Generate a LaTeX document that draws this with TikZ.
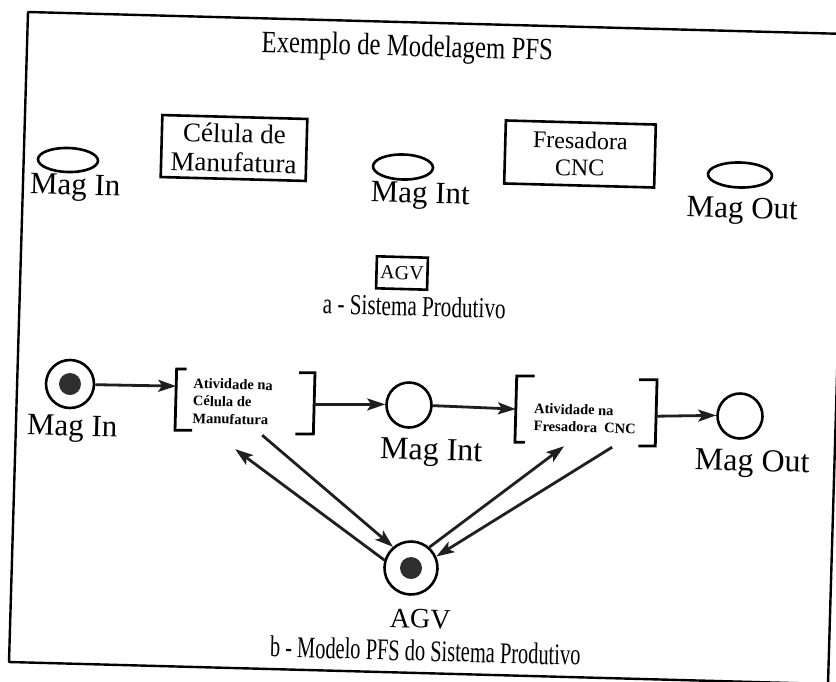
\documentclass[tikz,border=0pt]{standalone}
\usepackage{fontspec}
\setmainfont{Liberation Serif}
\usetikzlibrary{arrows.meta,calc,shapes.geometric}
\begin{document}
\begin{tikzpicture}[x=1pt,y=-1pt,
  every node/.append style={rotate=-1.55},
  frame/.style={line width=2.4pt, line join=round},
  shp/.style={draw, line width=2.6pt},
  txt/.style={inner sep=0pt, anchor=base},
  big/.style={font=\fontsize{31}{31}\selectfont},
  small/.style={font=\bfseries\fontsize{14.5}{17.5}\selectfont, align=left, inner sep=0pt, anchor=west},
  flow/.style={draw=black!88, line width=2.8pt, -{Stealth[length=18pt,width=12pt,inset=4pt]}},
  brk/.style={line width=2.8pt},
  tok/.style={fill=black!82},
]
\useasboundingbox (0,0) rectangle (836,681);
\clip (0,0) rectangle (836,681);
\fill[white] (0,0) rectangle (836,681);

% outer frame
\draw[frame] (28,12) -- (847,34) -- (828,684) -- (9,662) -- cycle;

\node[txt, font=\fontsize{31}{31}\selectfont, xscale=0.8] (title) at (407,56) {Exemplo de Modelagem PFS};

% (a) production system
\node[shp, ellipse, minimum width=60, minimum height=24, inner sep=0] (sin) at (68,160) {};
\node[txt, big] (lin) at (75,195) {Mag In};
\node[shp, minimum width=145, minimum height=62, align=center, inner sep=1,
      font=\fontsize{27}{29}\selectfont] (cel) at (234,148) {Célula de\\Manufatura};
\node[shp, ellipse, minimum width=60, minimum height=25, inner sep=0] (sint) at (403,167) {};
\node[txt, big] (lint) at (420,203) {Mag Int};
\node[shp, minimum width=150, minimum height=63, align=center, inner sep=1,
      font=\fontsize{24}{27}\selectfont] (fre) at (580,154) {Fresadora\\CNC};
\node[shp, ellipse, minimum width=64, minimum height=25, inner sep=0] (sout) at (740,175) {};
\node[txt, big] (lout) at (742,218) {Mag Out};
\node[shp, minimum width=51, minimum height=32, inner sep=1,
      font=\fontsize{20}{20}\selectfont] (agvbox) at (402,273) {AGV};
\node[txt, font=\fontsize{29}{29}\selectfont, xscale=0.73] (capa) at (414,316) {a - Sistema Produtivo};

% (b) PFS model
\node[shp, circle, minimum size=48, inner sep=0] (pin) at (70,384) {};
\fill[tok] (pin.center) circle (11);
\node[txt, big] (bin) at (72,436) {Mag In};

\node[minimum width=138, minimum height=61, inner sep=0] (t1) at (245,401.5) {};
\draw[brk] ($(t1.north west)+(10,0)$) -- (t1.north west) -- (t1.south west) -- ($(t1.south west)+(17,0)$);
\draw[brk] ($(t1.north east)+(-16,0)$) -- (t1.north east) -- (t1.south east) -- ($(t1.south east)+(-18,0)$);
\node[small] (t1txt) at ($(t1.west)+(17,1)$) {Atividade na\\Célula de\\Manufatura};

\node[shp, circle, minimum size=45, inner sep=0] (mint) at (409,405) {};
\node[txt, font=\fontsize{32}{32}\selectfont] (bint) at (431,460) {Mag Int};

\node[minimum width=140, minimum height=66, inner sep=0] (t2) at (586,411) {};
\draw[brk] ($(t2.north west)+(18,0)$) -- (t2.north west) -- (t2.south west) -- ($(t2.south west)+(10,0)$);
\draw[brk] ($(t2.north east)+(-18,0)$) -- (t2.north east) -- (t2.south east) -- ($(t2.south east)+(-17,0)$);
\node[small] (t2txt) at ($(t2.west)+(18,8)$) {Atividade na\\Fresadora\ \ CNC};

\node[shp, circle, minimum size=45, inner sep=0] (mout) at (740,416) {};
\node[txt, font=\fontsize{32}{32}\selectfont] (bout) at (752,471) {Mag Out};

\node[shp, circle, minimum size=53, inner sep=0] (agv) at (411,568) {};
\fill[tok] (agv.center) circle (11);
\node[txt, font=\fontsize{28}{28}\selectfont] (bagv) at (420,628) {AGV};
\node[txt, font=\fontsize{30}{30}\selectfont, xscale=0.68] (capb) at (425,661) {b - Modelo PFS do Sistema Produtivo};

% arc end points on the transitions
\coordinate (t1in)  at ($(t1.north west)!0.28!(t1.south west)$);
\coordinate (t1out) at ($(t1.north east)!0.52!(t1.south east)$);
\coordinate (t2in)  at ($(t2.north west)!0.5!(t2.south west)$);
\coordinate (t2out) at ($(t2.north east)!0.55!(t2.south east)$);
\coordinate (t1agvin)  at ($(t1.south)+(-9,17)$);
\coordinate (t1agvout) at ($(t1.south)+(18,3)$);
\coordinate (t2agvin)  at ($(t2.south)+(-21,2)$);
\coordinate (t2agvout) at ($(t2.south)+(27,3)$);

\draw[flow] (pin.east) -- (t1in);
\draw[flow] (t1out) -- (mint.west);
\draw[flow] (mint.east) -- (t2in);
\draw[flow] (t2out) -- (mout.west);
\draw[flow] (agv.165) -- (t1agvin);
\draw[flow] (t1agvout) -- (agv.132);
\draw[flow] (agv.50) -- (t2agvin);
\draw[flow] (t2agvout) -- (agv.26);
\end{tikzpicture}
\end{document}
